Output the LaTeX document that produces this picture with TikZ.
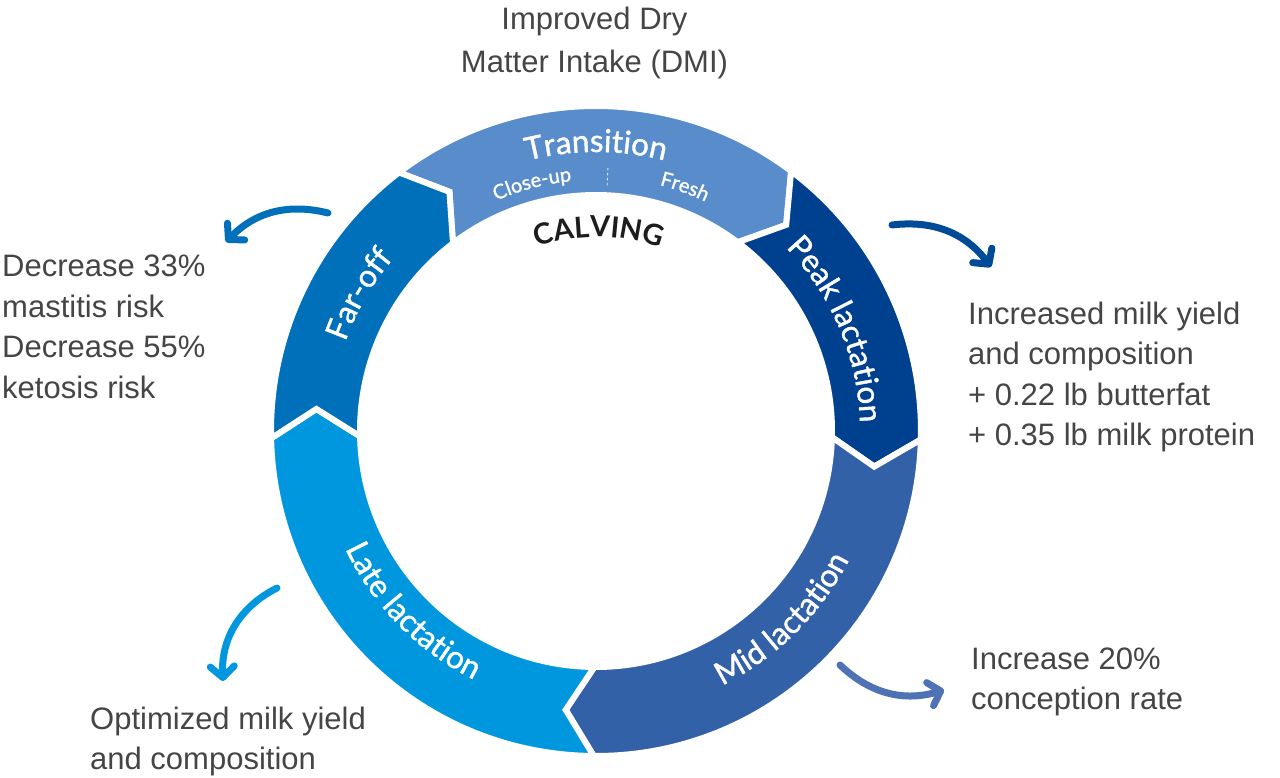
\documentclass[tikz,border=0pt]{standalone}
\usepackage{fontspec}
\setmainfont{Liberation Sans}
\newfontfamily\ringfont[FakeBold=1.2]{Lato}
\newfontfamily\calvfont{Lato}
\usetikzlibrary{decorations.text,arrows.meta}
\definecolor{ctrans}{RGB}{88,140,203}
\definecolor{cfar}{RGB}{0,112,186}
\definecolor{cpeak}{RGB}{0,65,143}
\definecolor{cmid}{RGB}{51,97,168}
\definecolor{clate}{RGB}{0,151,222}
\definecolor{ctext}{RGB}{69,69,69}
\definecolor{apeak}{RGB}{0,75,152}
\definecolor{amid}{RGB}{79,114,181}
\definecolor{calv}{RGB}{30,28,30}
\def\Ro{325}
\def\Ri{236}
\def\Rm{280.5}
\def\dd{5.8}
\newcommand\ringseg[3]{%
  \filldraw[fill=#3, draw=white, line width=6pt]
  (#1:\Ro) arc[start angle=#1, end angle=#2, radius=\Ro]
  -- ({#2-\dd}:\Rm) -- (#2:\Ri)
  arc[start angle=#2, end angle=#1, radius=\Ri]
  -- ({#1-\dd}:\Rm) -- cycle;}
% clockwise label (tops outward)
\newcommand\cwlabel[4]{% center angle, radius, font, text
  \path[decorate, decoration={text along path, text align=center, text color=white,
    text={|#3|#4}}]
  ({#1+60}:#2) arc[start angle={#1+60}, end angle={#1-60}, radius=#2];}
% counterclockwise label (tops inward)
\newcommand\ccwlabel[4]{%
  \path[decorate, decoration={text along path, text align=center, text color=white,
    text={|#3|#4}}]
  ({#1-60}:#2) arc[start angle={#1-60}, end angle={#1+60}, radius=#2];}
\newcommand\rfont{\ringfont\fontsize{31.5}{31.5}\selectfont}
\newcommand\sfont{\ringfont\fontsize{20}{20}\selectfont}
\tikzset{
  txt/.style={font=\fontsize{31}{40.5}\selectfont, text=ctext, inner sep=0pt},
  curvarrow/.style={line width=7pt, line cap=round,
    -{Straight Barb[length=11pt, width=24pt, round]}}
}
\begin{document}
\begin{tikzpicture}[x=1pt,y=1pt]
\useasboundingbox (-596,-347) rectangle (684,431);
% ring segments
\ringseg{127.3}{53.1}{ctrans}
\ringseg{53.1}{-1.5}{cpeak}
\ringseg{-1.5}{-90.4}{cmid}
\ringseg{-90.4}{-178.7}{clate}
\ringseg{181.3}{127.3}{cfar}
% labels on ring
\cwlabel{90}{279}{\rfont}{Transition}
\cwlabel{104.5}{251}{\sfont}{Close-up}
\cwlabel{70}{254}{\sfont}{Fresh}
\draw[white, opacity=0.8, line width=0.9pt, dash pattern=on 2.5pt off 2.5pt] (87.4:246) -- (87.4:266);
\path[decorate, decoration={text along path, text align=center, text color=calv,
    text={|\calvfont\bfseries\fontsize{29}{29}\selectfont|CALVING}}]
  (149.2:194) arc[start angle=149.2, end angle=29.2, radius=194];
\cwlabel{150}{266}{\rfont}{Far-off}
\cwlabel{22.9}{264}{\rfont}{Peak lactation}
\ccwlabel{-45.3}{284}{\rfont}{Mid lactation}
\ccwlabel{-135.5}{277}{\rfont}{Late lactation}
% texts
\node[txt, align=center, font=\fontsize{31}{43}\selectfont] (dmi) at (-1.5,388) {Improved Dry\\Matter Intake (DMI)};
\node[txt, align=left, anchor=west] (fartxt) at (-594,104) {Decrease 33\%\\mastitis risk\\Decrease 55\%\\ketosis risk};
\node[txt, align=left, anchor=west] (peaktxt) at (372,54) {Increased milk yield\\and composition\\+ 0.22 lb butterfat\\+ 0.35 lb milk protein};
\node[txt, align=left, anchor=west] (midtxt) at (375,-251) {Increase 20\%\\conception rate};
\node[txt, align=left, anchor=west] (latetxt) at (-506,-310.5) {Optimized milk yield\\and composition};
% arrows
\coordinate (a1s) at (-268,218); \coordinate (a1e) at (-370,189);
\coordinate (a2s) at (296,206);  \coordinate (a2e) at (395,164);
\coordinate (a3s) at (244,-234); \coordinate (a3e) at (348,-259);
\coordinate (a4s) at (-319,-157); \coordinate (a4e) at (-373,-250);
\draw[curvarrow, cfar] (a1s) to[bend right=30] (a1e);
\draw[curvarrow, apeak] (a2s) to[bend left=30] (a2e);
\draw[curvarrow, amid] (a3s) to[bend right=30] (a3e);
\draw[curvarrow, clate] (a4s) to[bend right=33] (a4e);
\end{tikzpicture}
\end{document}
